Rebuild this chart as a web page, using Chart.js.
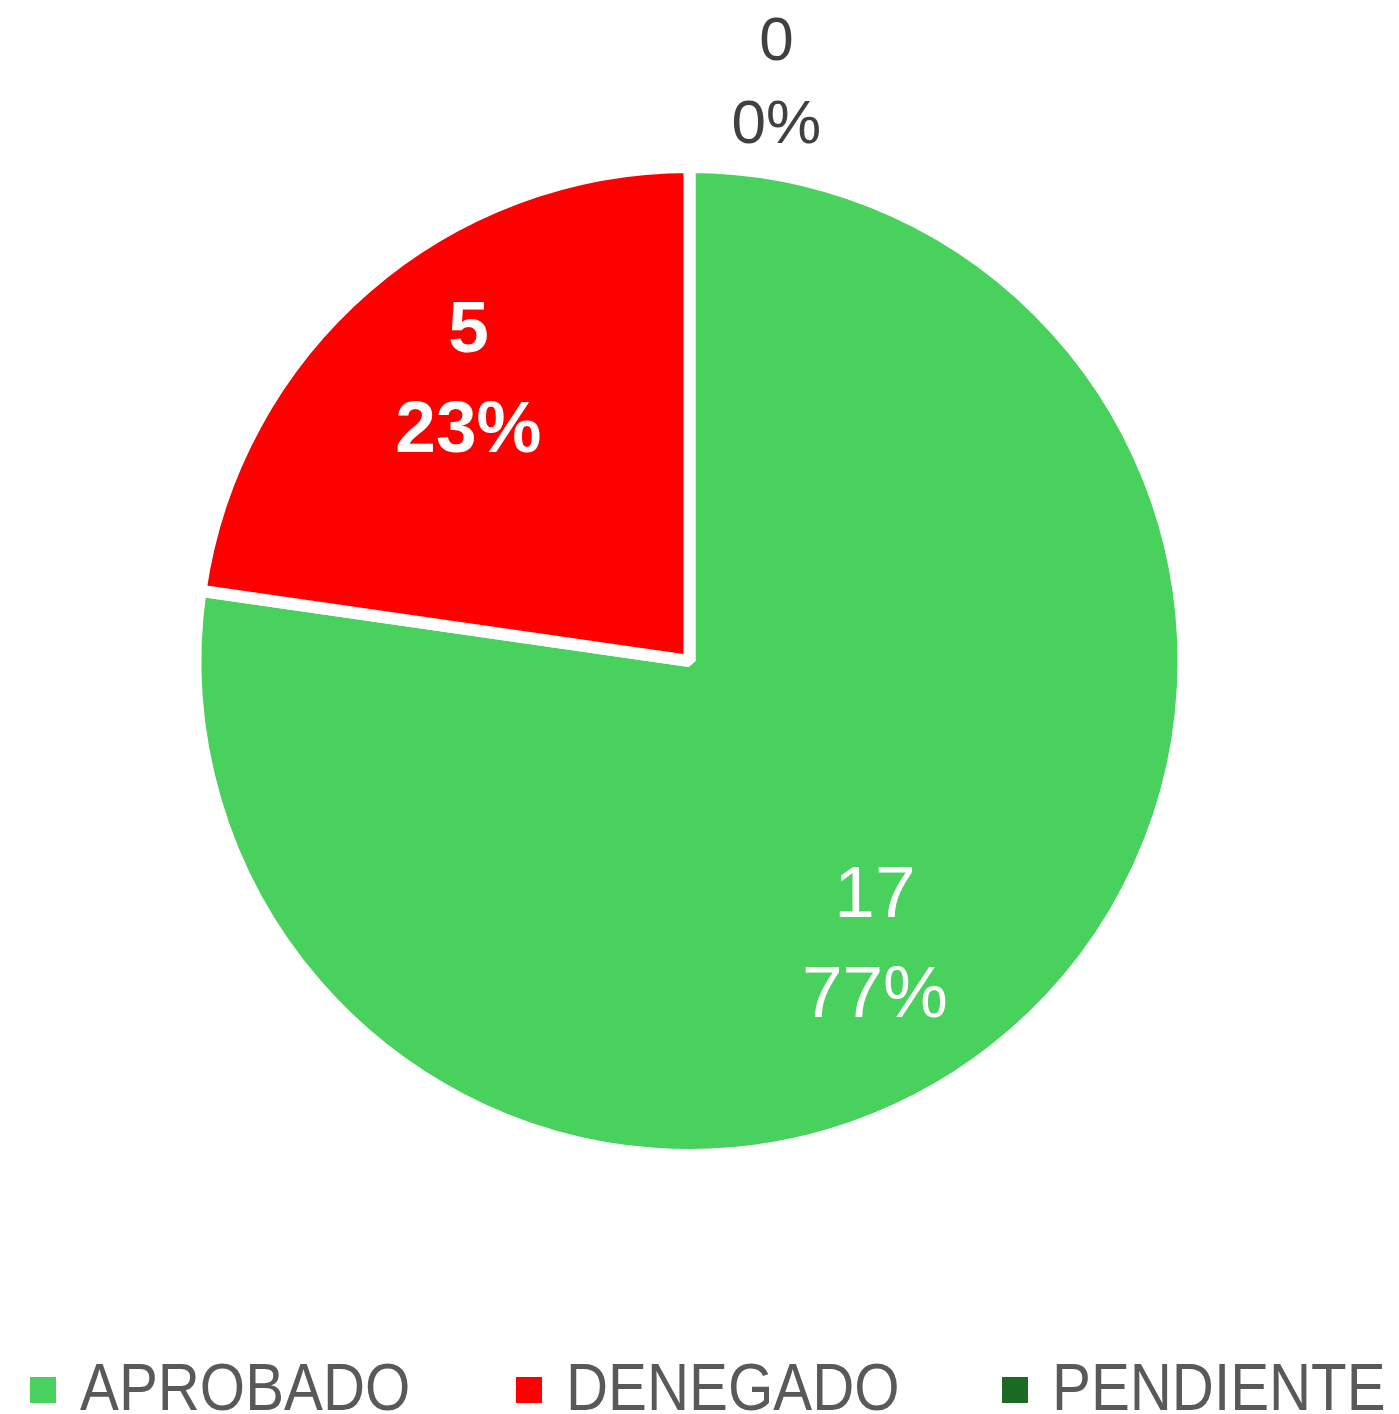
<!DOCTYPE html>
<html lang="es">
<head>
  <meta charset="UTF-8" />
  <title>Estado de solicitudes</title>
  <script src="https://cdn.jsdelivr.net/npm/chart.js"></script>
  <style>
    * { margin: 0; padding: 0; box-sizing: border-box; }
    html, body { width: 1399px; height: 1414px; background: #fff; overflow: hidden; }
    .chart-wrap { position: relative; width: 1399px; height: 1414px; }
  </style>
</head>
<body>
  <div class="chart-wrap"><canvas id="pieChart"></canvas></div>

  <script>
    const categories = ['APROBADO', 'DENEGADO', 'PENDIENTE'];
    const counts = [17, 5, 0];
    const sliceColors = ['#48D15C', '#FF0000', '#1B6B25'];

    const FONT = "'Liberation Sans', Arial, sans-serif";

    // label look per slice: distance as fraction of radius, angle nudge in degrees
    const labelStyles = [
      { color: '#ffffff', weight: 'normal', size: 73, gap: 100, dist: 0.68, shift: 7.4 },
      { color: '#ffffff', weight: 'bold', size: 73, gap: 100, dist: 0.73, shift: 3.1 },
      { color: '#404040', weight: 'normal', size: 62, gap: 83, dist: 1.19, shift: 8.5 }
    ];

    const sliceLabels = {
      id: 'sliceLabels',
      afterDatasetsDraw(chart) {
        const ctx = chart.ctx;
        const values = chart.data.datasets[0].data;
        const total = values.reduce((a, b) => a + b, 0);
        const meta = chart.getDatasetMeta(0);
        meta.data.forEach((arc, i) => {
          const { x, y, startAngle, endAngle, outerRadius } =
            arc.getProps(['x', 'y', 'startAngle', 'endAngle', 'outerRadius'], true);
          const st = labelStyles[i];
          const a = (startAngle + endAngle) / 2 + st.shift * Math.PI / 180;
          const r = outerRadius * st.dist;
          const lx = x + Math.cos(a) * r;
          const ly = y + Math.sin(a) * r;
          const cap = st.size * 0.716;
          const pct = Math.round(values[i] / total * 100);
          ctx.save();
          ctx.font = `${st.weight} ${st.size}px ${FONT}`;
          ctx.fillStyle = st.color;
          ctx.textAlign = 'center';
          ctx.textBaseline = 'alphabetic';
          ctx.fillText(String(values[i]), lx, ly - st.gap / 2 + cap / 2);
          ctx.fillText(pct + '%', lx, ly + st.gap / 2 + cap / 2);
          ctx.restore();
        });
      }
    };

    // bottom legend, drawn by hand so the spacing can follow the original
    const bottomLegend = {
      id: 'bottomLegend',
      afterDraw(chart) {
        const ctx = chart.ctx;
        const colors = chart.data.datasets[0].backgroundColor;
        const left = 30, step = 486, box = 26, baseline = 1410;
        ctx.save();
        ctx.font = `normal 67px ${FONT}`;
        ctx.textBaseline = 'alphabetic';
        ctx.textAlign = 'left';
        chart.data.labels.forEach((label, i) => {
          const bx = left + i * step;
          ctx.fillStyle = colors[i];
          ctx.fillRect(bx, 1377, box, box);
          ctx.fillStyle = '#595959';
          ctx.save();
          ctx.translate(bx + 50, baseline);
          ctx.scale(0.87, 1);
          ctx.fillText(label, 0, 0);
          ctx.restore();
        });
        ctx.restore();
      }
    };

    new Chart(document.getElementById('pieChart'), {
      type: 'pie',
      data: {
        labels: categories,
        datasets: [{
          data: counts,
          backgroundColor: sliceColors,
          borderColor: '#ffffff',
          borderWidth: 12,
          hoverOffset: 0
        }]
      },
      options: {
        responsive: true,
        maintainAspectRatio: false,
        animation: false,
        layout: { padding: { top: 161, bottom: 253, left: 0, right: 20 } },
        plugins: {
          legend: { display: false },
          tooltip: { enabled: false }
        }
      },
      plugins: [sliceLabels, bottomLegend]
    });
  </script>
</body>
</html>
